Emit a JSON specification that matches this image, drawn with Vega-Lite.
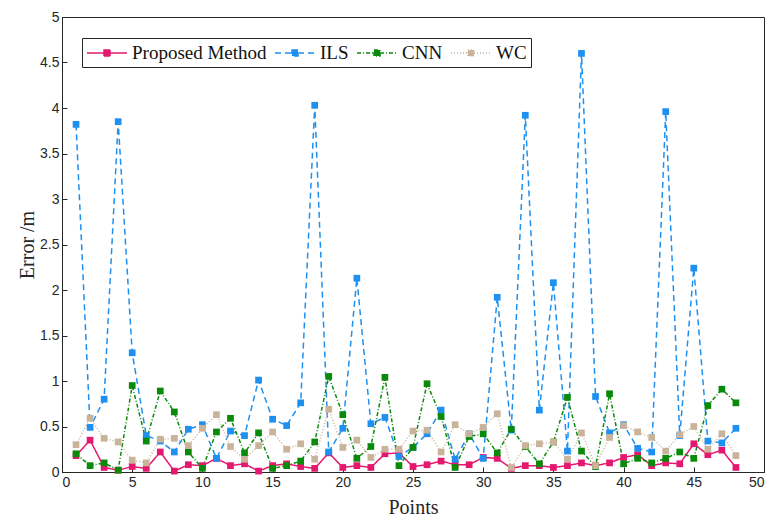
{
  "$schema": "https://vega.github.io/schema/vega-lite/v6.json",
  "width": 702,
  "height": 455,
  "autosize": "none",
  "padding": {"left": 62, "top": 17, "right": 8, "bottom": 47},
  "background": "white",
  "config": {
    "view": {"stroke": "#262626", "strokeWidth": 1},
    "axis": {
      "grid": false,
      "labelFont": "Liberation Sans",
      "labelFontSize": 14,
      "labelColor": "#262626",
      "titleFont": "Liberation Serif",
      "titleFontSize": 20,
      "titleFontWeight": "normal",
      "titleColor": "#262626",
      "domainColor": "#262626",
      "tickColor": "#262626",
      "tickSize": -5,
      "labelPadding": 8
    }
  },
  "datasets": {
    "errs": [
      {"x":1,"m":"Proposed Method","v":0.18},{"x":2,"m":"Proposed Method","v":0.35},{"x":3,"m":"Proposed Method","v":0.05},{"x":4,"m":"Proposed Method","v":0.02},{"x":5,"m":"Proposed Method","v":0.06},{"x":6,"m":"Proposed Method","v":0.04},{"x":7,"m":"Proposed Method","v":0.22},{"x":8,"m":"Proposed Method","v":0.01},{"x":9,"m":"Proposed Method","v":0.08},{"x":10,"m":"Proposed Method","v":0.07},{"x":11,"m":"Proposed Method","v":0.15},{"x":12,"m":"Proposed Method","v":0.07},{"x":13,"m":"Proposed Method","v":0.09},{"x":14,"m":"Proposed Method","v":0.01},{"x":15,"m":"Proposed Method","v":0.07},{"x":16,"m":"Proposed Method","v":0.09},{"x":17,"m":"Proposed Method","v":0.06},{"x":18,"m":"Proposed Method","v":0.04},{"x":19,"m":"Proposed Method","v":0.21},{"x":20,"m":"Proposed Method","v":0.05},{"x":21,"m":"Proposed Method","v":0.07},{"x":22,"m":"Proposed Method","v":0.05},{"x":23,"m":"Proposed Method","v":0.20},{"x":24,"m":"Proposed Method","v":0.21},{"x":25,"m":"Proposed Method","v":0.06},{"x":26,"m":"Proposed Method","v":0.08},{"x":27,"m":"Proposed Method","v":0.12},{"x":28,"m":"Proposed Method","v":0.08},{"x":29,"m":"Proposed Method","v":0.08},{"x":30,"m":"Proposed Method","v":0.16},{"x":31,"m":"Proposed Method","v":0.15},{"x":32,"m":"Proposed Method","v":0.04},{"x":33,"m":"Proposed Method","v":0.07},{"x":34,"m":"Proposed Method","v":0.07},{"x":35,"m":"Proposed Method","v":0.05},{"x":36,"m":"Proposed Method","v":0.07},{"x":37,"m":"Proposed Method","v":0.10},{"x":38,"m":"Proposed Method","v":0.07},{"x":39,"m":"Proposed Method","v":0.10},{"x":40,"m":"Proposed Method","v":0.16},{"x":41,"m":"Proposed Method","v":0.19},{"x":42,"m":"Proposed Method","v":0.07},{"x":43,"m":"Proposed Method","v":0.10},{"x":44,"m":"Proposed Method","v":0.09},{"x":45,"m":"Proposed Method","v":0.31},{"x":46,"m":"Proposed Method","v":0.19},{"x":47,"m":"Proposed Method","v":0.24},{"x":48,"m":"Proposed Method","v":0.05},
      {"x":1,"m":"ILS","v":3.82},{"x":2,"m":"ILS","v":0.49},{"x":3,"m":"ILS","v":0.80},{"x":4,"m":"ILS","v":3.85},{"x":5,"m":"ILS","v":1.31},{"x":6,"m":"ILS","v":0.40},{"x":7,"m":"ILS","v":0.34},{"x":8,"m":"ILS","v":0.22},{"x":9,"m":"ILS","v":0.47},{"x":10,"m":"ILS","v":0.52},{"x":11,"m":"ILS","v":0.15},{"x":12,"m":"ILS","v":0.45},{"x":13,"m":"ILS","v":0.40},{"x":14,"m":"ILS","v":1.01},{"x":15,"m":"ILS","v":0.58},{"x":16,"m":"ILS","v":0.51},{"x":17,"m":"ILS","v":0.76},{"x":18,"m":"ILS","v":4.03},{"x":19,"m":"ILS","v":0.22},{"x":20,"m":"ILS","v":0.48},{"x":21,"m":"ILS","v":2.13},{"x":22,"m":"ILS","v":0.53},{"x":23,"m":"ILS","v":0.60},{"x":24,"m":"ILS","v":0.17},{"x":25,"m":"ILS","v":0.27},{"x":26,"m":"ILS","v":0.42},{"x":27,"m":"ILS","v":0.68},{"x":28,"m":"ILS","v":0.14},{"x":29,"m":"ILS","v":0.42},{"x":30,"m":"ILS","v":0.15},{"x":31,"m":"ILS","v":1.92},{"x":32,"m":"ILS","v":0.46},{"x":33,"m":"ILS","v":3.92},{"x":34,"m":"ILS","v":0.68},{"x":35,"m":"ILS","v":2.08},{"x":36,"m":"ILS","v":0.23},{"x":37,"m":"ILS","v":4.60},{"x":38,"m":"ILS","v":0.83},{"x":39,"m":"ILS","v":0.43},{"x":40,"m":"ILS","v":0.52},{"x":41,"m":"ILS","v":0.26},{"x":42,"m":"ILS","v":0.22},{"x":43,"m":"ILS","v":3.96},{"x":44,"m":"ILS","v":0.40},{"x":45,"m":"ILS","v":2.24},{"x":46,"m":"ILS","v":0.34},{"x":47,"m":"ILS","v":0.32},{"x":48,"m":"ILS","v":0.48},
      {"x":1,"m":"CNN","v":0.20},{"x":2,"m":"CNN","v":0.07},{"x":3,"m":"CNN","v":0.10},{"x":4,"m":"CNN","v":0.02},{"x":5,"m":"CNN","v":0.95},{"x":6,"m":"CNN","v":0.34},{"x":7,"m":"CNN","v":0.89},{"x":8,"m":"CNN","v":0.66},{"x":9,"m":"CNN","v":0.22},{"x":10,"m":"CNN","v":0.04},{"x":11,"m":"CNN","v":0.44},{"x":12,"m":"CNN","v":0.59},{"x":13,"m":"CNN","v":0.21},{"x":14,"m":"CNN","v":0.43},{"x":15,"m":"CNN","v":0.04},{"x":16,"m":"CNN","v":0.07},{"x":17,"m":"CNN","v":0.12},{"x":18,"m":"CNN","v":0.33},{"x":19,"m":"CNN","v":1.05},{"x":20,"m":"CNN","v":0.63},{"x":21,"m":"CNN","v":0.15},{"x":22,"m":"CNN","v":0.28},{"x":23,"m":"CNN","v":1.04},{"x":24,"m":"CNN","v":0.07},{"x":25,"m":"CNN","v":0.27},{"x":26,"m":"CNN","v":0.97},{"x":27,"m":"CNN","v":0.61},{"x":28,"m":"CNN","v":0.05},{"x":29,"m":"CNN","v":0.39},{"x":30,"m":"CNN","v":0.42},{"x":31,"m":"CNN","v":0.21},{"x":32,"m":"CNN","v":0.47},{"x":33,"m":"CNN","v":0.28},{"x":34,"m":"CNN","v":0.09},{"x":35,"m":"CNN","v":0.33},{"x":36,"m":"CNN","v":0.82},{"x":37,"m":"CNN","v":0.23},{"x":38,"m":"CNN","v":0.06},{"x":39,"m":"CNN","v":0.86},{"x":40,"m":"CNN","v":0.09},{"x":41,"m":"CNN","v":0.15},{"x":42,"m":"CNN","v":0.10},{"x":43,"m":"CNN","v":0.15},{"x":44,"m":"CNN","v":0.22},{"x":45,"m":"CNN","v":0.15},{"x":46,"m":"CNN","v":0.73},{"x":47,"m":"CNN","v":0.91},{"x":48,"m":"CNN","v":0.76},
      {"x":1,"m":"WC","v":0.30},{"x":2,"m":"WC","v":0.59},{"x":3,"m":"WC","v":0.37},{"x":4,"m":"WC","v":0.33},{"x":5,"m":"WC","v":0.13},{"x":6,"m":"WC","v":0.10},{"x":7,"m":"WC","v":0.36},{"x":8,"m":"WC","v":0.37},{"x":9,"m":"WC","v":0.29},{"x":10,"m":"WC","v":0.48},{"x":11,"m":"WC","v":0.63},{"x":12,"m":"WC","v":0.28},{"x":13,"m":"WC","v":0.14},{"x":14,"m":"WC","v":0.29},{"x":15,"m":"WC","v":0.44},{"x":16,"m":"WC","v":0.25},{"x":17,"m":"WC","v":0.31},{"x":18,"m":"WC","v":0.14},{"x":19,"m":"WC","v":0.69},{"x":20,"m":"WC","v":0.27},{"x":21,"m":"WC","v":0.35},{"x":22,"m":"WC","v":0.16},{"x":23,"m":"WC","v":0.25},{"x":24,"m":"WC","v":0.25},{"x":25,"m":"WC","v":0.45},{"x":26,"m":"WC","v":0.46},{"x":27,"m":"WC","v":0.22},{"x":28,"m":"WC","v":0.52},{"x":29,"m":"WC","v":0.42},{"x":30,"m":"WC","v":0.49},{"x":31,"m":"WC","v":0.64},{"x":32,"m":"WC","v":0.05},{"x":33,"m":"WC","v":0.29},{"x":34,"m":"WC","v":0.31},{"x":35,"m":"WC","v":0.33},{"x":36,"m":"WC","v":0.14},{"x":37,"m":"WC","v":0.43},{"x":38,"m":"WC","v":0.07},{"x":39,"m":"WC","v":0.38},{"x":40,"m":"WC","v":0.51},{"x":41,"m":"WC","v":0.44},{"x":42,"m":"WC","v":0.38},{"x":43,"m":"WC","v":0.23},{"x":44,"m":"WC","v":0.41},{"x":45,"m":"WC","v":0.50},{"x":46,"m":"WC","v":0.25},{"x":47,"m":"WC","v":0.42},{"x":48,"m":"WC","v":0.18}
    ]
  },
  "data": {"name": "errs"},
  "encoding": {
    "x": {"field": "x", "type": "quantitative", "scale": {"domain": [0, 50], "nice": false}, "axis": {"title": "Points", "values": [0,5,10,15,20,25,30,35,40,45,50], "titlePadding": 8}},
    "y": {"field": "v", "type": "quantitative", "scale": {"domain": [0, 5], "nice": false}, "axis": {"title": "Error /m", "values": [0,0.5,1,1.5,2,2.5,3,3.5,4,4.5,5], "format": ".1~f", "titlePadding": 2}},
    "color": {
      "field": "m", "type": "nominal",
      "scale": {"domain": ["Proposed Method", "ILS", "CNN", "WC"], "range": ["#E3186E", "#1E90F0", "#0A8A0A", "#C9B49B"]},
      "legend": {
        "title": null, "orient": "none", "legendX": 20, "legendY": 21, "direction": "horizontal",
        "strokeColor": "#262626", "fillColor": "white", "padding": 4,
        "labelFont": "Liberation Serif", "labelFontSize": 19, "labelColor": "#111",
        "symbolType": "M-1,0H0.7M1.3,0H3M0.7,-0.3H1.3V0.3H0.7Z", "symbolSize": 400, "symbolStrokeWidth": 1.5, "columnPadding": 5, "labelOffset": 24,
        "encode": {"symbols": {"update": {"fill": {"scale": "color", "field": "value"}, "fillOpacity": {"value": 1}}}}
      }
    }
  },
  "layer": [
    {
      "mark": {"type": "line", "strokeWidth": 1.5},
      "encoding": {
        "strokeDash": {
          "field": "m", "type": "nominal",
          "scale": {"domain": ["Proposed Method", "ILS", "CNN", "WC"], "range": [[1, 0], [6, 4], [4, 2, 1, 2], [1, 2]]},
          "legend": null
        }
      }
    },
    {
      "mark": {"type": "point", "shape": "square", "filled": true, "size": 45, "opacity": 1},
      "encoding": {}
    }
  ]
}
